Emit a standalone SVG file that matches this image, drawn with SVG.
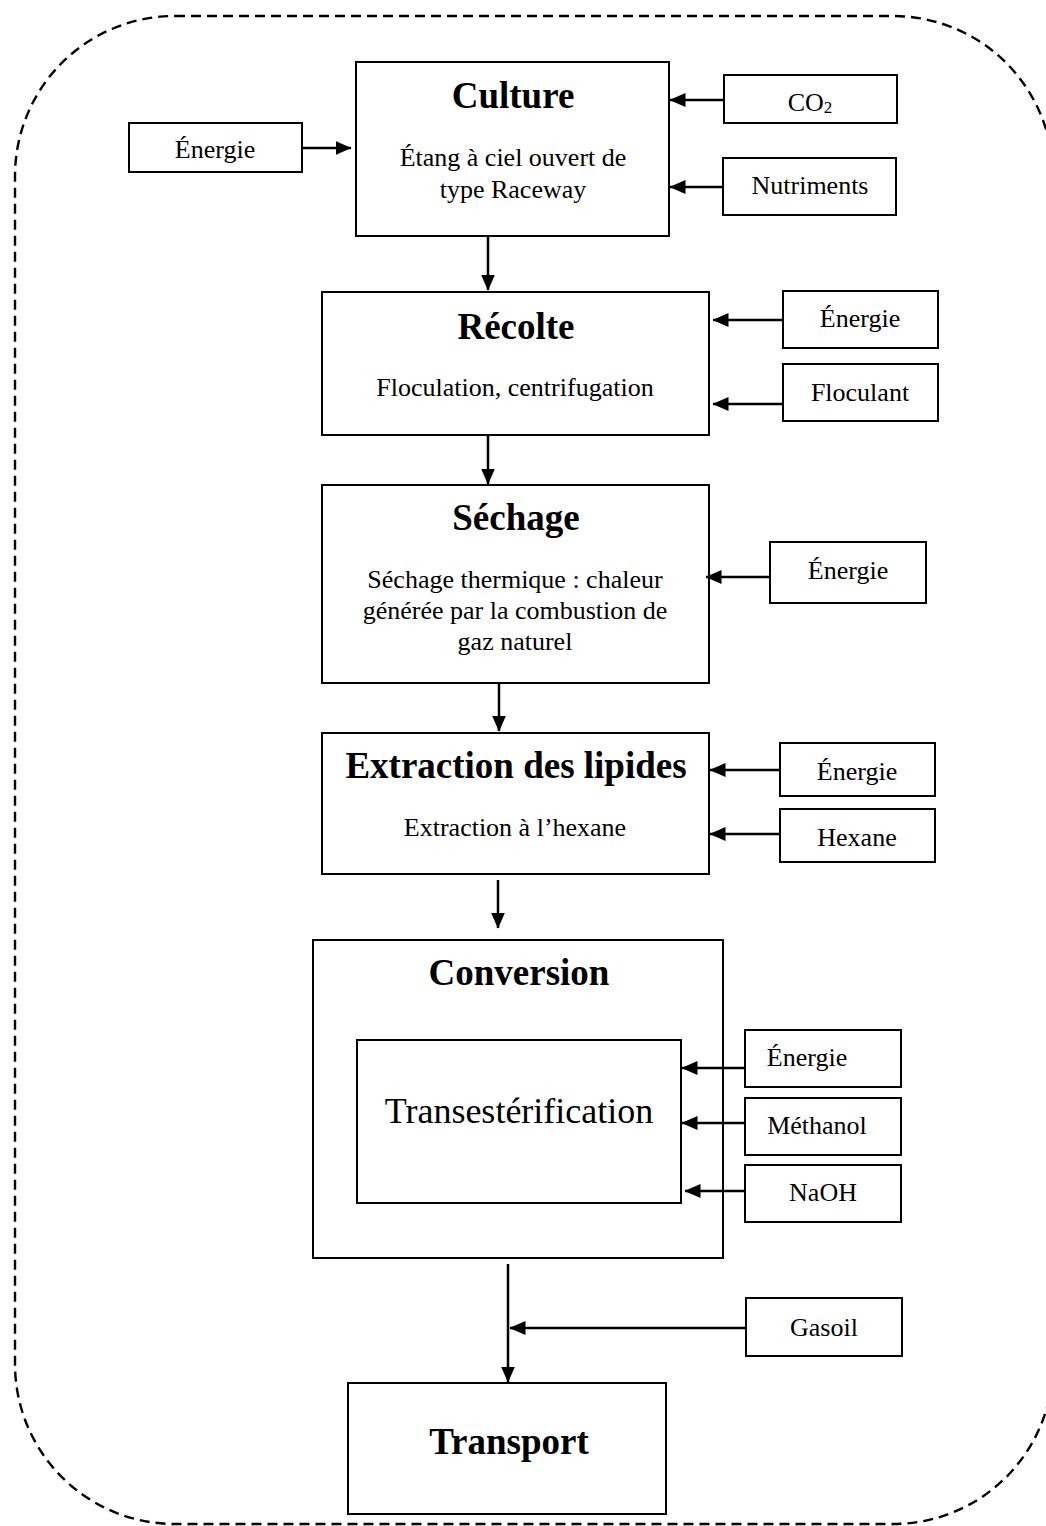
<svg xmlns="http://www.w3.org/2000/svg" width="1046" height="1526" viewBox="0 0 1046 1526">
<style>
.box{fill:#fff;stroke:#000;stroke-width:2}
.t{font-family:"Liberation Serif","Times New Roman",serif;font-size:26px;fill:#000;text-anchor:middle}
.h{font-family:"Liberation Serif","Times New Roman",serif;font-size:37px;font-weight:bold;fill:#000;text-anchor:middle}
.big{font-family:"Liberation Serif","Times New Roman",serif;font-size:36px;fill:#000;text-anchor:middle}
.c{stroke:#000;stroke-width:2.5;fill:none;marker-end:url(#ah)}
</style>
<defs>
<marker id="ah" viewBox="0 0 16 14" refX="15.5" refY="7" markerWidth="16" markerHeight="14" markerUnits="userSpaceOnUse" orient="auto">
<path d="M0,0 L16,7 L0,14 Z" fill="#000"/>
</marker>
</defs>
<rect width="1046" height="1526" fill="#fff"/>
<rect id="boundary" x="15" y="16" width="1038" height="1508" rx="160" ry="160" fill="none" stroke="#000" stroke-width="2.4" stroke-dasharray="10,6"/>

<g id="culture">
<rect class="box" x="356" y="62" width="313" height="174"/>
<text class="h" x="513" y="108">Culture</text>
<text class="t" x="513" y="166">Étang à ciel ouvert de</text>
<text class="t" x="513" y="198">type Raceway</text>
</g>
<g id="energie1"><rect class="box" x="129" y="123" width="173" height="49"/><text class="t" x="215" y="158">Énergie</text></g>
<g id="co2"><rect class="box" x="724" y="75" width="173" height="48"/><text class="t" x="810" y="111">CO<tspan font-size="17" dy="2">2</tspan></text></g>
<g id="nutriments"><rect class="box" x="723" y="158" width="173" height="57"/><text class="t" x="810" y="194">Nutriments</text></g>

<g id="recolte">
<rect class="box" x="322" y="292" width="387" height="143"/>
<text class="h" x="516" y="339">Récolte</text>
<text class="t" x="515" y="396">Floculation, centrifugation</text>
</g>
<g id="energie2"><rect class="box" x="783" y="291" width="155" height="57"/><text class="t" x="860" y="327">Énergie</text></g>
<g id="floculant"><rect class="box" x="783" y="364" width="155" height="57"/><text class="t" x="860" y="401">Floculant</text></g>

<g id="sechage">
<rect class="box" x="322" y="485" width="387" height="198"/>
<text class="h" x="516" y="530">Séchage</text>
<text class="t" x="515" y="588">Séchage thermique : chaleur</text>
<text class="t" x="515" y="619">générée par la combustion de</text>
<text class="t" x="515" y="650">gaz naturel</text>
</g>
<g id="energie3"><rect class="box" x="770" y="542" width="156" height="61"/><text class="t" x="848" y="579">Énergie</text></g>

<g id="extraction">
<rect class="box" x="322" y="733" width="387" height="141"/>
<text class="h" x="516" y="778">Extraction des lipides</text>
<text class="t" x="515" y="836">Extraction à l’hexane</text>
</g>
<g id="energie4"><rect class="box" x="780" y="743" width="155" height="53"/><text class="t" x="857" y="780">Énergie</text></g>
<g id="hexane"><rect class="box" x="780" y="809" width="155" height="53"/><text class="t" x="857" y="846">Hexane</text></g>

<g id="conversion">
<rect class="box" x="313" y="940" width="410" height="318"/>
<text class="h" x="519" y="985">Conversion</text>
</g>
<g id="transesterification">
<rect class="box" x="357" y="1040" width="324" height="163"/>
<text class="big" x="519" y="1123">Transestérification</text>
</g>
<g id="energie5"><rect class="box" x="745" y="1030" width="156" height="57"/><text class="t" x="807" y="1066">Énergie</text></g>
<g id="methanol"><rect class="box" x="745" y="1098" width="156" height="57"/><text class="t" x="817" y="1134">Méthanol</text></g>
<g id="naoh"><rect class="box" x="745" y="1165" width="156" height="57"/><text class="t" x="823" y="1201">NaOH</text></g>

<g id="gasoil"><rect class="box" x="746" y="1298" width="156" height="58"/><text class="t" x="824" y="1336">Gasoil</text></g>

<g id="transport">
<rect class="box" x="348" y="1383" width="318" height="131"/>
<text class="h" x="509" y="1454">Transport</text>
</g>

<g id="connectors">
<line class="c" x1="302" y1="148" x2="351" y2="148"/>
<line class="c" x1="724" y1="100" x2="670" y2="100"/>
<line class="c" x1="723" y1="187" x2="670" y2="187"/>
<line class="c" x1="488" y1="236" x2="488" y2="290"/>
<line class="c" x1="783" y1="320" x2="713" y2="320"/>
<line class="c" x1="783" y1="404" x2="713" y2="404"/>
<line class="c" x1="488" y1="435" x2="488" y2="484"/>
<line class="c" x1="770" y1="577" x2="706" y2="577"/>
<line class="c" x1="499" y1="683" x2="499" y2="731"/>
<line class="c" x1="780" y1="770" x2="710" y2="770"/>
<line class="c" x1="780" y1="834" x2="710" y2="834"/>
<line class="c" x1="498" y1="880" x2="498" y2="928"/>
<line class="c" x1="745" y1="1068" x2="682" y2="1068"/>
<line class="c" x1="745" y1="1123" x2="682" y2="1123"/>
<line class="c" x1="745" y1="1191" x2="685" y2="1191"/>
<line class="c" x1="508" y1="1264" x2="508" y2="1382"/>
<line class="c" x1="746" y1="1328" x2="510" y2="1328"/>
</g>
</svg>
